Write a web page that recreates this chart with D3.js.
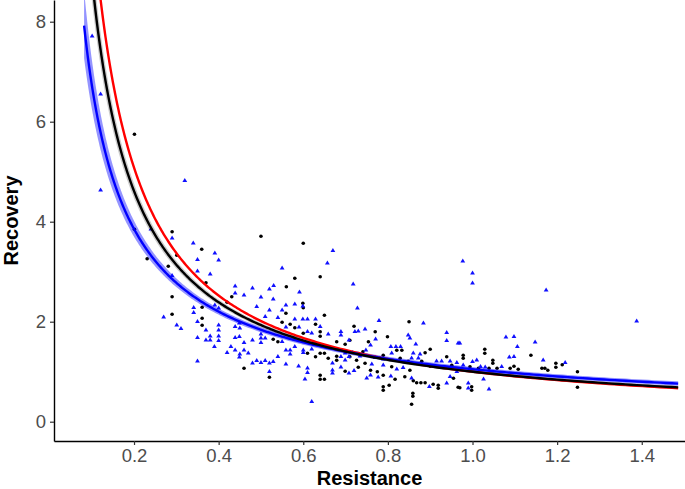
<!DOCTYPE html>
<html lang="en">
<head>
<meta charset="UTF-8">
<title>Resistance vs Recovery</title>
<script src="https://cdn.jsdelivr.net/npm/d3@7"></script>
<style>
  body { margin: 0; background: #fff; }
  text { font-family: "Liberation Sans", Arial, sans-serif; }
</style>
</head>
<body>
<svg width="685" height="489"></svg>
<script>
// points: [resistance, recovery]
const dots = [
  [0.201,5.75],[0.201,3.85],[0.290,3.80],[0.360,3.45],[0.231,3.26],[0.281,3.11],[0.301,3.33],[0.370,2.78],
  [0.431,2.50],[0.290,2.50],[0.420,2.39],[0.361,2.29],[0.290,2.15],[0.361,2.07],[0.361,1.93],
  [0.500,3.71],[0.600,3.57],[0.580,2.87],[0.640,2.90],[0.560,2.70],
  [0.599,2.37],[0.559,2.17],[0.550,1.99],[0.650,2.13],[0.569,1.95],[0.580,1.88],[0.629,1.95],[0.640,1.80],
  [0.640,1.71],[0.600,1.77],[0.679,1.60],[0.699,1.55],[0.529,1.65],[0.540,1.60],[0.610,1.37],[0.640,1.37],
  [0.650,1.37],[0.629,1.30],[0.679,1.31],[0.659,1.27],[0.679,1.23],[0.699,1.01],[0.460,1.07],[0.520,0.89],
  [0.640,0.93],[0.640,0.85],[0.650,0.85],[0.600,2.28],
  [0.850,2.00],[0.720,1.91],[0.770,1.80],[0.799,1.70],[0.754,1.60],[0.821,1.43],[0.833,1.43],[0.900,1.45],
  [0.888,1.38],[0.741,1.40],[0.789,1.33],[0.710,1.30],[0.726,1.23],[0.829,1.27],[0.848,1.21],[0.880,1.21],
  [0.939,1.30],[0.951,1.13],[0.746,1.17],[0.809,1.10],[0.852,1.03],[0.900,1.11],[0.730,1.09],[0.759,1.03],
  [0.775,1.00],[0.789,0.93],[0.817,0.85],[0.840,0.90],[0.860,0.82],[0.868,0.78],[0.878,0.78],[0.888,0.78],
  [0.907,0.75],[0.919,0.73],[0.919,0.67],[0.955,0.87],[0.966,0.69],[0.789,0.70],[0.789,0.63],[0.803,0.73],
  [0.859,0.57],[0.859,0.51],[0.856,0.35],[0.710,1.63],
  [1.029,1.45],[1.029,1.37],[1.138,1.33],[1.197,1.17],[1.197,1.09],[1.212,1.14],[1.164,1.07],[1.171,1.07],
  [1.178,1.03],[1.248,1.00],[1.248,0.69],[1.089,1.07],[1.098,1.11],[1.108,1.05],[1.058,1.07],[1.048,1.23],
  [1.048,1.17],[1.039,1.07],[0.978,1.33],[0.978,1.27],[0.994,1.10],[1.014,1.07],[0.998,0.70],[0.998,0.63],
  [0.970,0.68]
];

const triangles = [
  [0.101,7.71],[0.121,6.55],[0.121,4.63],[0.320,4.82],[0.290,3.67],[0.340,3.57],[0.240,3.85],[0.391,3.37],
  [0.400,3.23],[0.350,3.24],[0.350,3.01],[0.380,2.95],[0.290,2.92],[0.439,2.71],[0.439,2.57],[0.391,2.33],
  [0.400,2.27],[0.341,2.28],[0.341,2.18],[0.270,2.09],[0.350,2.00],[0.301,1.93],[0.311,1.86],[0.370,1.83],
  [0.380,1.71],[0.400,1.93],[0.400,1.83],[0.400,1.71],[0.400,1.62],[0.350,1.68],[0.370,1.63],[0.380,1.63],
  [0.390,1.50],[0.429,1.50],[0.420,1.38],[0.439,1.43],[0.449,1.70],[0.439,1.90],[0.449,1.97],[0.350,1.21],
  [0.449,1.29],[0.439,1.68],
  [0.670,3.42],[0.657,3.17],[0.550,3.07],[0.530,2.72],[0.480,2.67],[0.520,2.65],[0.460,2.53],[0.591,2.59],
  [0.718,2.75],[0.500,2.49],[0.529,2.45],[0.559,2.33],[0.599,2.31],[0.580,2.35],[0.490,2.30],[0.520,2.23],
  [0.550,2.23],[0.510,2.10],[0.540,2.08],[0.599,2.05],[0.580,2.05],[0.610,2.05],[0.629,2.05],[0.640,1.90],
  [0.450,1.87],[0.559,1.89],[0.590,1.89],[0.610,1.80],[0.620,1.77],[0.659,1.75],[0.689,1.80],[0.689,1.73],
  [0.708,1.63],[0.500,1.75],[0.500,1.67],[0.500,1.58],[0.510,1.67],[0.550,1.60],[0.480,1.63],[0.460,1.58],
  [0.460,1.43],[0.470,1.37],[0.450,1.35],[0.559,1.43],[0.569,1.43],[0.569,1.35],[0.580,1.50],[0.600,1.43],
  [0.600,1.38],[0.620,1.45],[0.689,1.30],[0.699,1.37],[0.699,1.23],[0.708,1.30],[0.669,1.17],[0.669,1.03],
  [0.669,0.97],[0.689,1.09],[0.708,0.97],[0.480,1.17],[0.490,1.22],[0.500,1.18],[0.510,1.22],[0.520,1.17],
  [0.529,1.20],[0.540,1.30],[0.559,1.15],[0.520,1.00],[0.589,1.11],[0.610,1.07],[0.610,0.98],[0.604,0.85],
  [0.620,0.40],
  [0.728,2.27],[0.779,2.02],[0.884,1.97],[0.746,1.85],[0.730,1.81],[0.722,1.80],[0.939,1.78],[0.848,1.73],
  [0.852,1.67],[0.771,1.65],[0.939,1.62],[0.759,1.53],[0.866,1.55],[0.966,1.57],[0.807,1.50],[0.819,1.50],
  [0.830,1.50],[0.860,1.37],[0.876,1.35],[0.748,1.43],[0.717,1.38],[0.809,1.37],[0.734,1.31],[0.770,1.28],
  [0.789,1.25],[0.856,1.27],[0.872,1.27],[0.915,1.21],[0.927,1.21],[0.947,1.21],[0.963,1.18],[0.762,1.15],
  [0.789,1.13],[0.821,1.05],[0.836,1.08],[0.907,1.10],[0.720,1.02],[0.759,0.93],[0.750,0.87],[0.777,0.89],
  [0.807,0.91],[0.856,0.87],[0.939,0.77],[0.947,0.90],[0.963,1.00],[0.898,0.70],
  [0.977,3.21],[1.000,2.97],[1.000,2.77],[1.174,2.63],[1.388,2.01],[1.079,1.69],[1.098,1.70],[1.148,1.59],
  [1.106,1.50],[1.087,1.29],[1.098,1.30],[1.167,1.23],[1.219,1.18],[1.069,1.10],[1.010,1.23],[1.000,1.20],
  [0.970,1.57],[0.978,1.13],[1.019,1.10],[1.030,1.09],[1.026,0.85],[0.990,0.77],[0.990,0.67],[1.039,0.65]
];

// power-law fits y = a * x^-b, with a log-scale band half width c0 + c1*(ln x - m)^2
const fitNames  = ["red", "blue", "black"];
const fitColors = ["#ff0000", "#0000ff", "#000000"];
const fitBands  = [null, "rgba(0,0,255,0.42)", "rgba(0,0,0,0.2)"];
const fitA      = [1.00, 1.05, 1.00];
const fitB      = [1.01, 0.808, 0.95];
const bandC0    = [0, 0.028, 0.022];
const bandC1    = [0, 0.02, 0.012];
const bandM     = [0, -0.8, -0.7];
const fitStart  = [0.080, 0.082, 0.080];
const fitEnd    = 1.486;

const xTicks = [0.2, 0.4, 0.6, 0.8, 1.0, 1.2, 1.4];
const yTicks = [0, 2, 4, 6, 8];

const svg = d3.select("svg");
const mLeft = 54, mRight = 685, mTop = 0, mBottom = 441;

const x = d3.scaleLinear().domain([0.01087, 1.5022]).range([mLeft, mRight]);
const y = d3.scaleLinear().domain([-0.386, 8.434]).range([mBottom, mTop]);

svg.append("defs").append("clipPath").attr("id", "panel")
  .append("rect").attr("x", mLeft).attr("y", mTop)
  .attr("width", mRight - mLeft).attr("height", mBottom - mTop);

const panel = svg.append("g").attr("clip-path", "url(#panel)");

// points
panel.selectAll("circle.dot").data(dots).enter().append("circle")
  .attr("class", "dot")
  .attr("cx", d => x(d[0])).attr("cy", d => y(d[1]))
  .attr("r", 1.8).attr("fill", "#000");

const tri = d3.symbol().type(d3.symbolTriangle).size(10);
panel.selectAll("path.tri").data(triangles).enter().append("path")
  .attr("class", "tri")
  .attr("transform", d => `translate(${x(d[0])},${y(d[1])})`)
  .attr("d", tri).attr("fill", "#1010ff");

// fitted curves
const grid = i => d3.range(0, 301).map(k => fitStart[i] * Math.pow(fitEnd / fitStart[i], k / 300));

fitNames.forEach((name, i) => {
  const f = v => fitA[i] * Math.pow(v, -fitB[i]);
  if (fitBands[i]) {
    const half = v => bandC0[i] + bandC1[i] * Math.pow(Math.log(v) - bandM[i], 2);
    const area = d3.area()
      .x(v => x(v))
      .y0(v => y(f(v) * Math.exp(-half(v))))
      .y1(v => y(f(v) * Math.exp(half(v))));
    panel.append("path").datum(grid(i)).attr("d", area).attr("fill", fitBands[i]);
  }
});

fitNames.forEach((name, i) => {
  const f = v => fitA[i] * Math.pow(v, -fitB[i]);
  const line = d3.line().x(v => x(v)).y(v => y(f(v)));
  panel.append("path").datum(grid(i)).attr("d", line)
    .attr("fill", "none").attr("stroke", fitColors[i])
    .attr("stroke-width", 2.4);
});

// axes
const xAxis = svg.append("g").attr("transform", `translate(0,${mBottom})`)
  .call(d3.axisBottom(x).tickValues(xTicks).tickFormat(d3.format(".1f")).tickSize(4).tickSizeOuter(0));
const yAxis = svg.append("g").attr("transform", `translate(${mLeft},0)`)
  .call(d3.axisLeft(y).tickValues(yTicks).tickFormat(d3.format("d")).tickSize(4).tickSizeOuter(0));

[xAxis, yAxis].forEach(g => {
  g.select(".domain").attr("stroke", "#000").attr("stroke-width", 1.4);
  g.selectAll(".tick line").attr("stroke", "#333").attr("stroke-width", 1.2);
  g.selectAll(".tick text").attr("fill", "#4d4d4d")
    .style("font-size", "18.5px").style("font-family", "Liberation Sans, Arial, sans-serif");
});
xAxis.selectAll(".tick text").attr("dy", null).attr("y", 21);
yAxis.selectAll(".tick text").attr("x", -8);

svg.append("text")
  .attr("x", (mLeft + mRight) / 2).attr("y", 484.5)
  .attr("text-anchor", "middle")
  .style("font-size", "20px").style("font-weight", "bold")
  .text("Resistance");

svg.append("text")
  .attr("transform", `translate(18,${(mTop + mBottom) / 2}) rotate(-90)`)
  .attr("text-anchor", "middle")
  .style("font-size", "20px").style("font-weight", "bold")
  .text("Recovery");
</script>
</body>
</html>
